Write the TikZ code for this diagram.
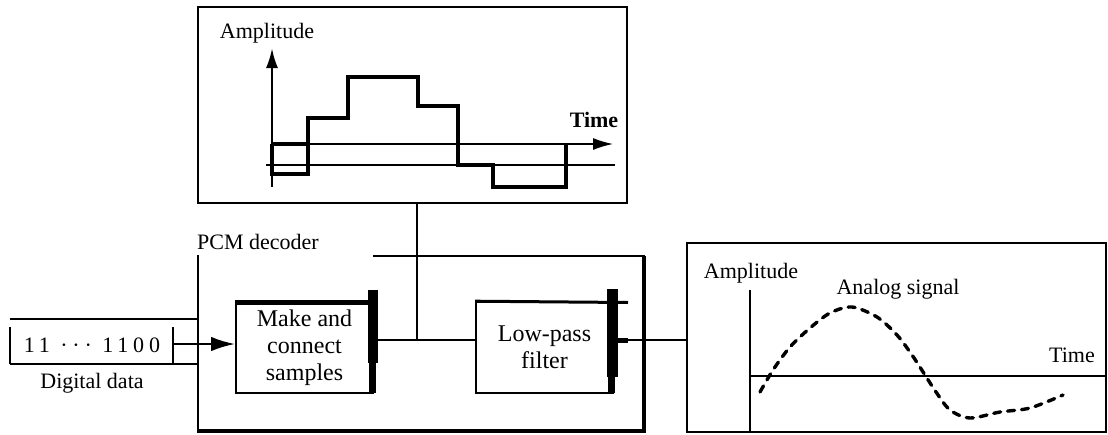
\documentclass[tikz,border=0pt]{standalone}
\usepackage{fontspec}
\setmainfont{Liberation Serif}
\usetikzlibrary{arrows.meta}
\tikzset{
  lbl/.style={font=\fontsize{11}{13}\selectfont, inner sep=0pt},
  block/.style={draw, line width=0.8pt, align=center, inner sep=0pt,
    font=\fontsize{12}{13.5}\selectfont},
  panel/.style={draw, line width=0.85pt, inner sep=0pt},
  stair/.style={line width=2pt, line join=miter},
  wave/.style={line width=1.7pt, dash pattern=on 3.5pt off 3.5pt, line cap=round},
  tip/.style={-{Latex[length=#1,width=0.6*#1]}},
}
\begin{document}
\begin{tikzpicture}[x=0.5pt,y=-0.5pt]
    \useasboundingbox (0,0) rectangle (1108,434);

    % Quantized signal panel
    \node[panel, minimum width=214.5pt, minimum height=98pt] (quant) at (412.5,105) {};
    \node[lbl] (qamp) at (267,33) {Amplitude};
    \node[lbl, font=\fontsize{11}{13}\selectfont\bfseries] (qtime) at (594,120) {Time};
    \draw[tip=10pt, line width=1.3pt] (272,187) -- (272,48);
    \draw[tip=10pt, line width=0.7pt] (272,144) -- (613,144);
    \draw[line width=0.7pt] (266,165) -- (615,165);
    \draw[stair] (272,144) -- (308,144)
      (272,144) -- (272,174) -- (308,174) -- (308,118) -- (348,118) -- (348,77)
      -- (418,77) -- (418,106) -- (458,106) -- (458,165) -- (493,165)
      -- (493,187) -- (566,187) -- (566,144);

    % PCM decoder frame
    \node[lbl] (pcm) at (258,242) {PCM decoder};
    \draw[line width=0.8pt] (373,256) -- (645,256);
    \draw[line width=1pt] (198,255) -- (198,432);
    \draw[line width=2pt] (197,431) -- (644,431) -- (644,256);

    % Blocks
    \node[block, minimum width=68.5pt, minimum height=45pt] (make) at (304.5,348) {Make and\\connect\\samples};
    \node[block, minimum width=68.5pt, minimum height=45.5pt] (lpf) at (544.5,347.5) {Low-pass\\filter};
    \draw[line width=2.5pt] (make.north west) -- (make.north east);
    \fill (368,290) rectangle (378,363);
    \fill (369,363) rectangle (376,393);
    \draw[line width=1.5pt] (lpf.north west) -- (628,302.5);
    \fill (607,289) rectangle (618,377);
    \fill (608,377) rectangle (615,393);
    \fill (618,338) rectangle (628,343);

    % Digital data register
    \node[lbl] (data) at (92,345) {\addfontfeatures{LetterSpace=22}11 ··· 1100};
    \node[lbl] (datalbl) at (92,383) {Digital data};
    \draw[line width=0.8pt] (10,319) -- (199,319) (10,364) -- (199,364)
      (10,327) -- (10,364) (173,327) -- (173,364);

    % Connections
    \coordinate (din) at (173,344);
    \coordinate (jn) at (417,340);
    \draw[tip=12pt, line width=1.3pt] (din) -- (make.west |- din);
    \draw[line width=1.2pt] (make.east |- jn) -- (lpf.west |- jn);
    \draw[line width=1pt] (quant.south -| jn) -- (jn);

    % Analog signal panel
    \node[panel, minimum width=209.5pt, minimum height=94.5pt] (analog) at (896.5,337.5) {};
    \draw[line width=1.2pt] (lpf.east |- jn) -- (analog.west |- jn);
    \node[lbl] (aamp) at (751,273) {Amplitude};
    \node[lbl] (asig) at (898,289) {Analog signal};
    \node[lbl] (atime) at (1072,355) {Time};
    \draw[line width=0.8pt] (750,290) -- (750,432);
    \draw[line width=1pt] (750,376) -- (1106,376);
    \draw[wave] plot[smooth] coordinates {(760,392) (773,370) (790,347) (810,328)
      (830,313) (852,307) (877,317) (897,335) (912,355) (925,375) (936,392)
      (950,410) (970,418) (1000,412) (1030,408) (1063,395)};
\end{tikzpicture}
\end{document}
